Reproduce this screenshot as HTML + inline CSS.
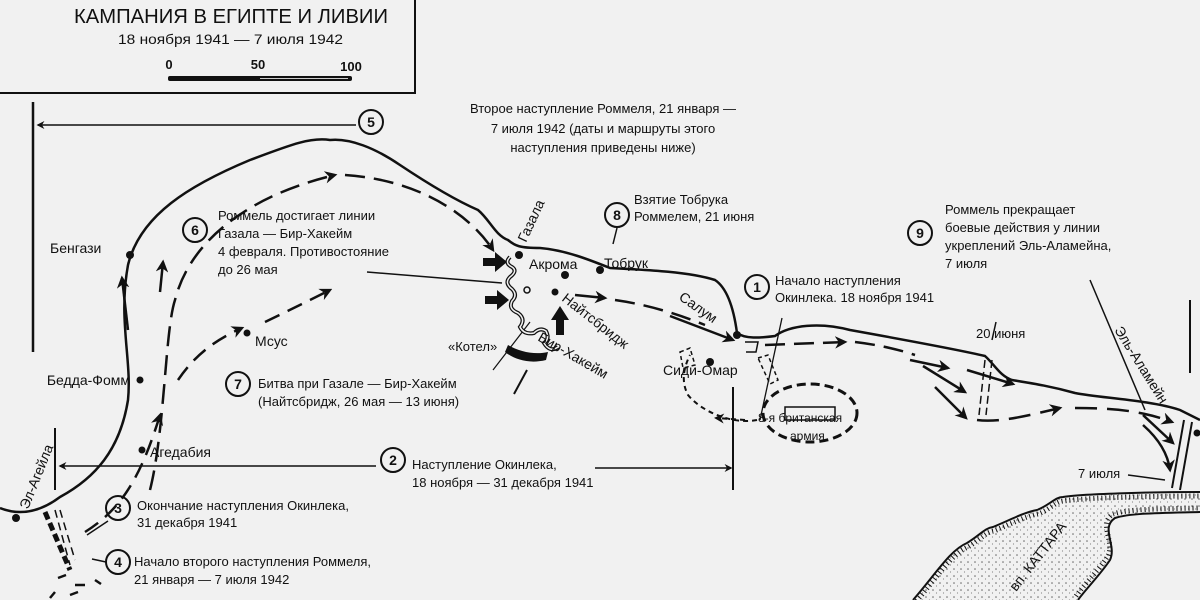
<!DOCTYPE html>
<html><head><meta charset="utf-8"><style>
html,body{margin:0;padding:0;background:#f1f1f1;}
svg{display:block;}
text{font-family:"Liberation Sans","Noto Sans CJK SC",sans-serif;fill:#111;}
</style></head><body>
<svg width="1200" height="600" viewBox="0 0 1200 600" xmlns="http://www.w3.org/2000/svg">
<defs>
<marker id="ah" viewBox="0 0 10 10" refX="8" refY="5" markerWidth="5" markerHeight="5" orient="auto"><path d="M0,0 L10,5 L0,10 L3,5 z" fill="#111"/></marker>
<pattern id="dots" width="7" height="7" patternUnits="userSpaceOnUse"><circle cx="2" cy="2" r="0.8" fill="#666"/><circle cx="5.5" cy="5" r="0.6" fill="#888"/></pattern>
</defs>
<rect width="1200" height="600" fill="#f1f1f1"/>
<!-- title box -->
<path d="M0,93 H415 V0" fill="none" stroke="#111" stroke-width="2"/>
<text x="74" y="23" font-size="20" textLength="314" lengthAdjust="spacingAndGlyphs">КАМПАНИЯ В ЕГИПТЕ И ЛИВИИ</text>
<text x="118" y="44" font-size="14" textLength="225" lengthAdjust="spacingAndGlyphs">18 ноября 1941 — 7 июля 1942</text>
<text x="169" y="69" font-size="13" font-weight="bold" text-anchor="middle">0</text>
<text x="258" y="69" font-size="13" font-weight="bold" text-anchor="middle">50</text>
<text x="351" y="71" font-size="13" font-weight="bold" text-anchor="middle">100</text>
<rect x="168" y="76" width="184" height="5" rx="2" fill="#111"/>
<line x1="260" y1="78.5" x2="348" y2="78.5" stroke="#ccc" stroke-width="1"/>

<!-- Qattara fill -->
<path d="M913,600 C935,575 950,550 967,543 C980,535 985,528 993,527 C1010,520 1025,512 1037,510 C1050,505 1055,497 1063,497 C1080,494 1150,492 1200,492 L1200,512 C1160,513 1130,513 1115,518 C1100,528 1117,545 1110,560 C1100,575 1085,590 1078,600 Z" fill="url(#dots)"/>

<g fill="none" stroke="#111">
<!-- 5 -->
<line x1="33" y1="102" x2="33" y2="352" stroke-width="2.5"/>
<line x1="356" y1="125" x2="38" y2="125" stroke-width="1.6" marker-end="url(#ah)"/>
<circle cx="371" cy="122" r="12" stroke-width="2"/>
<!-- coast -->
<path d="M0,508 C20,516 40,512 60,497 C95,478 120,450 128,400 C132,360 118,320 128,265 C140,215 190,185 250,160 C290,145 310,137 330,140 C350,138 375,148 400,165 C430,185 455,200 478,210 C490,220 495,235 508,240 C515,246 520,248 540,248 C565,250 590,260 610,268 C650,270 690,272 715,280 C730,290 735,318 737,333 C745,339 760,338 775,336 C790,325 820,322 850,330 C900,339 960,350 985,356 C995,365 1000,376 1012,380 C1030,383 1050,386 1075,393 C1100,398 1150,400 1180,410 L1200,420" stroke-width="2.5"/>
<!-- 2 -->
<line x1="55" y1="428" x2="55" y2="490" stroke-width="2"/>
<line x1="376" y1="466" x2="60" y2="466" stroke-width="1.6" marker-end="url(#ah)"/>
<circle cx="393" cy="460" r="12" stroke-width="2"/>
<line x1="595" y1="468" x2="731" y2="468" stroke-width="1.6" marker-end="url(#ah)"/>
<line x1="733" y1="387" x2="733" y2="490" stroke-width="2"/>
<!-- circles -->
<circle cx="118" cy="508" r="12" stroke-width="2"/>
<circle cx="118" cy="562" r="12" stroke-width="2"/>
<circle cx="238" cy="384" r="12" stroke-width="2"/>
<circle cx="195" cy="230" r="12" stroke-width="2"/>
<circle cx="617" cy="215" r="12" stroke-width="2"/>
<circle cx="757" cy="287" r="12" stroke-width="2"/>
<circle cx="920" cy="233" r="12" stroke-width="2"/>
<!-- leader lines -->
<line x1="108" y1="521" x2="87" y2="535" stroke-width="1.5"/>
<line x1="106" y1="562" x2="92" y2="559" stroke-width="1.5"/>
<line x1="617" y1="228" x2="613" y2="244" stroke-width="1.5"/>
<line x1="367" y1="272" x2="502" y2="283" stroke-width="1.5"/>
<line x1="530" y1="322" x2="493" y2="370" stroke-width="1.2"/>
<line x1="527" y1="370" x2="514" y2="394" stroke-width="2"/>
<line x1="782" y1="318" x2="760" y2="420" stroke-width="1.3"/>
<line x1="1090" y1="280" x2="1145" y2="410" stroke-width="1.5"/>
<line x1="1190" y1="300" x2="1190" y2="373" stroke-width="2"/>
<line x1="1128" y1="475" x2="1165" y2="480" stroke-width="1.5"/>
<line x1="996" y1="322" x2="992" y2="340" stroke-width="1.5"/>
<!-- dashed routes -->
<path d="M150,490 C165,430 165,330 175,300 C190,240 250,195 335,175" stroke-width="2.5" stroke-dasharray="20,9" marker-end="url(#ah)"/>
<path d="M345,175 C420,180 470,215 493,250" stroke-width="2.5" stroke-dasharray="20,9" marker-end="url(#ah)"/>
<path d="M85,532 C120,510 140,480 160,415" stroke-width="2.5" stroke-dasharray="16,9" marker-end="url(#ah)"/>
<path d="M178,380 C195,355 215,340 242,328" stroke-width="2.5" stroke-dasharray="16,9" marker-end="url(#ah)"/>
<path d="M265,322 C290,310 310,300 330,290" stroke-width="2.5" stroke-dasharray="16,9" marker-end="url(#ah)"/>
<line x1="128" y1="330" x2="122" y2="278" stroke-width="2.5" marker-end="url(#ah)"/>
<line x1="160" y1="292" x2="163" y2="262" stroke-width="2.5" marker-end="url(#ah)"/>
<line x1="575" y1="295" x2="605" y2="298" stroke-width="2.5" marker-end="url(#ah)"/>
<path d="M615,300 C650,305 680,315 705,325" stroke-width="2.5" stroke-dasharray="20,9"/>
<line x1="670" y1="316" x2="733" y2="340" stroke-width="2.5" marker-end="url(#ah)"/>
<path d="M765,345 L845,342" stroke-width="2.5" stroke-dasharray="20,9" marker-end="url(#ah)"/>
<path d="M855,342 C880,345 900,350 915,355" stroke-width="2.5" stroke-dasharray="20,9"/>
<line x1="910" y1="360" x2="948" y2="368" stroke-width="2.5" marker-end="url(#ah)"/>
<line x1="923" y1="366" x2="965" y2="392" stroke-width="2.5" marker-end="url(#ah)"/>
<line x1="935" y1="387" x2="966" y2="418" stroke-width="2.5" marker-end="url(#ah)"/>
<line x1="967" y1="370" x2="1013" y2="384" stroke-width="2.5" marker-end="url(#ah)"/>
<path d="M977,420 C1000,423 1030,415 1060,408" stroke-width="2.5" stroke-dasharray="22,10" marker-end="url(#ah)"/>
<path d="M1075,408 C1110,408 1140,410 1172,422" stroke-width="2.5" stroke-dasharray="22,10" marker-end="url(#ah)"/>
<line x1="1143" y1="415" x2="1173" y2="443" stroke-width="2.5" marker-end="url(#ah)"/>
<path d="M1143,425 C1160,440 1168,455 1170,470" stroke-width="2.5" marker-end="url(#ah)"/>
<!-- 20 june double dashed -->
<path d="M985,360 L979,415 M992,360 L986,415" stroke-width="1.5" stroke-dasharray="8,4"/>
<!-- El Alamein line -->
<path d="M1172,488 L1184,420 M1180,490 L1192,422" stroke-width="2"/>
<circle cx="1197" cy="433" r="3" fill="#111"/>
<!-- Sidi Omar area dashed -->
<path d="M757,420 C730,425 700,410 688,395 C680,380 685,365 690,355" stroke-width="2" stroke-dasharray="5,4"/>
<line x1="745" y1="420" x2="716" y2="418" stroke-width="2" stroke-dasharray="5,4" marker-end="url(#ah)"/>
<path d="M680,352 L690,348 L695,365 L683,368 Z" stroke-width="1.5" stroke-dasharray="4,3"/>
<path d="M758,358 L768,355 L778,380 L770,384 Z" stroke-width="1.5" stroke-dasharray="4,3"/>
<path d="M745,342 L758,342 L756,352 L746,352" stroke-width="1.5"/>
<ellipse cx="810" cy="413" rx="47" ry="29" stroke-width="3" stroke-dasharray="9,5"/>
<rect x="785" y="407" width="50" height="13" stroke-width="1.5"/>
<!-- Gazala line wavy double -->
<path d="M510,257 q-6,6 2,10 q6,4 -2,10 q-6,6 2,12 q6,6 0,12 q-4,8 6,12 q8,6 2,14 q4,8 14,6 q6,-6 12,-2 q4,8 -2,12 q6,10 14,4" stroke-width="4"/>
<path d="M510,257 q-6,6 2,10 q6,4 -2,10 q-6,6 2,12 q6,6 0,12 q-4,8 6,12 q8,6 2,14 q4,8 14,6 q6,-6 12,-2 q4,8 -2,12 q6,10 14,4" stroke="#f1f1f1" stroke-width="1.5"/>
<!-- El Agheila lines -->
<path d="M55,510 L70,565 M60,510 L75,560" stroke-width="1.5" stroke-dasharray="8,5"/>
<path d="M45,512 L70,570" stroke-width="5" stroke-dasharray="8,4"/>
<path d="M58,578 l8,-3 M75,585 l10,0 M95,580 l6,4 M70,595 l8,-3 M50,598 l5,-6" stroke-width="2.5"/>
<!-- Qattara depression edges -->
<path d="M913,600 C935,575 950,550 967,543 C980,535 985,528 993,527 C1010,520 1025,512 1037,510 C1050,505 1055,497 1063,497 C1080,494 1150,492 1200,492" stroke-width="2"/>
<path d="M913,600 C935,575 950,550 967,543 C980,535 985,528 993,527 C1010,520 1025,512 1037,510 C1050,505 1055,497 1063,497 C1080,494 1150,492 1200,492" stroke-width="5" stroke-dasharray="1,3" transform="translate(1,4)"/>
<path d="M1078,600 C1085,590 1100,575 1110,560 C1117,545 1100,528 1115,518 C1130,513 1160,513 1200,512" stroke-width="2"/>
<path d="M1078,600 C1085,590 1100,575 1110,560 C1117,545 1100,528 1115,518 C1130,513 1160,513 1200,512" stroke-width="5" stroke-dasharray="1,3" transform="translate(-2,-4)"/>
</g>
<!-- solid black arrows -->
<path d="M483,258 L495,258 L495,252 L507,262 L495,272 L495,266 L483,266 Z" fill="#111"/>
<path d="M485,296 L497,296 L497,290 L509,300 L497,310 L497,304 L485,304 Z" fill="#111"/>
<path d="M556,335 L556,320 L551,320 L560,306 L569,320 L564,320 L564,335 Z" fill="#111"/>
<path d="M508,345 C520,352 535,355 548,352 L546,360 C530,364 515,360 505,352 Z" fill="#111"/>
<!-- dots -->
<g fill="#111">
<circle cx="130" cy="255" r="4"/><circle cx="140" cy="380" r="3.5"/><circle cx="142" cy="450" r="3.5"/>
<circle cx="16" cy="518" r="4"/><circle cx="247" cy="333" r="3.5"/><circle cx="519" cy="255" r="4"/>
<circle cx="565" cy="275" r="4"/><circle cx="600" cy="270" r="4"/><circle cx="555" cy="292" r="3.5"/>
<circle cx="737" cy="335" r="4"/><circle cx="710" cy="362" r="4"/>
</g>
<circle cx="527" cy="290" r="3" fill="none" stroke="#111" stroke-width="1.5"/>
<!-- labels -->
<g font-size="13">
<text x="603" y="113" text-anchor="middle">Второе наступление Роммеля, 21 января —</text>
<text x="603" y="133" text-anchor="middle">7 июля 1942 (даты и маршруты этого</text>
<text x="603" y="152" text-anchor="middle">наступления приведены ниже)</text>
<text x="218" y="220">Роммель достигает линии</text>
<text x="218" y="238">Газала — Бир-Хакейм</text>
<text x="218" y="256">4 февраля. Противостояние</text>
<text x="218" y="274">до 26 мая</text>
<text x="634" y="204">Взятие Тобрука</text>
<text x="634" y="221">Роммелем, 21 июня</text>
<text x="775" y="285">Начало наступления</text>
<text x="775" y="302">Окинлека. 18 ноября 1941</text>
<text x="945" y="214">Роммель прекращает</text>
<text x="945" y="232">боевые действия у линии</text>
<text x="945" y="250">укреплений Эль-Аламейна,</text>
<text x="945" y="268">7 июля</text>
<text x="258" y="388">Битва при Газале — Бир-Хакейм</text>
<text x="258" y="406">(Найтсбридж, 26 мая — 13 июня)</text>
<text x="412" y="469">Наступление Окинлека,</text>
<text x="412" y="487">18 ноября — 31 декабря 1941</text>
<text x="137" y="510">Окончание наступления Окинлека,</text>
<text x="137" y="527">31 декабря 1941</text>
<text x="134" y="566">Начало второго наступления Роммеля,</text>
<text x="134" y="584">21 января — 7 июля 1942</text>
<text x="976" y="338">20 июня</text>
<text x="1078" y="478">7 июля</text>
<text x="448" y="351">«Котел»</text>
<text x="758" y="422" font-size="12">8-я британская</text>
<text x="790" y="440" font-size="12">армия</text>
</g>
<g font-size="14">
<text x="50" y="253">Бенгази</text>
<text x="130" y="385" text-anchor="end">Бедда-Фомм</text>
<text x="150" y="457">Агедабия</text>
<text x="255" y="346">Мсус</text>
<text x="529" y="269">Акрома</text>
<text x="604" y="268">Тобрук</text>
<text x="663" y="375">Сиди-Омар</text>
<text transform="translate(678,299) rotate(35)">Салум</text>
<text transform="translate(28,510) rotate(-68)">Эл-Агейла</text>
<text transform="translate(526,243) rotate(-65)">Газала</text>
<text transform="translate(561,300) rotate(38)">Найтсбридж</text>
<text transform="translate(537,340) rotate(30)">Бир-Хакейм</text>
<text transform="translate(1114,330) rotate(58)">Эль-Аламейн</text>
<text transform="translate(1016,592) rotate(-52)">вп. КАТТАРА</text>
</g>
<g font-size="14" font-weight="bold" text-anchor="middle">
<text x="371" y="127">5</text><text x="393" y="465">2</text><text x="118" y="513">3</text>
<text x="118" y="567">4</text><text x="238" y="389">7</text><text x="195" y="235">6</text>
<text x="617" y="220">8</text><text x="757" y="292">1</text><text x="920" y="238">9</text>
</g>
</svg>
</body></html>
